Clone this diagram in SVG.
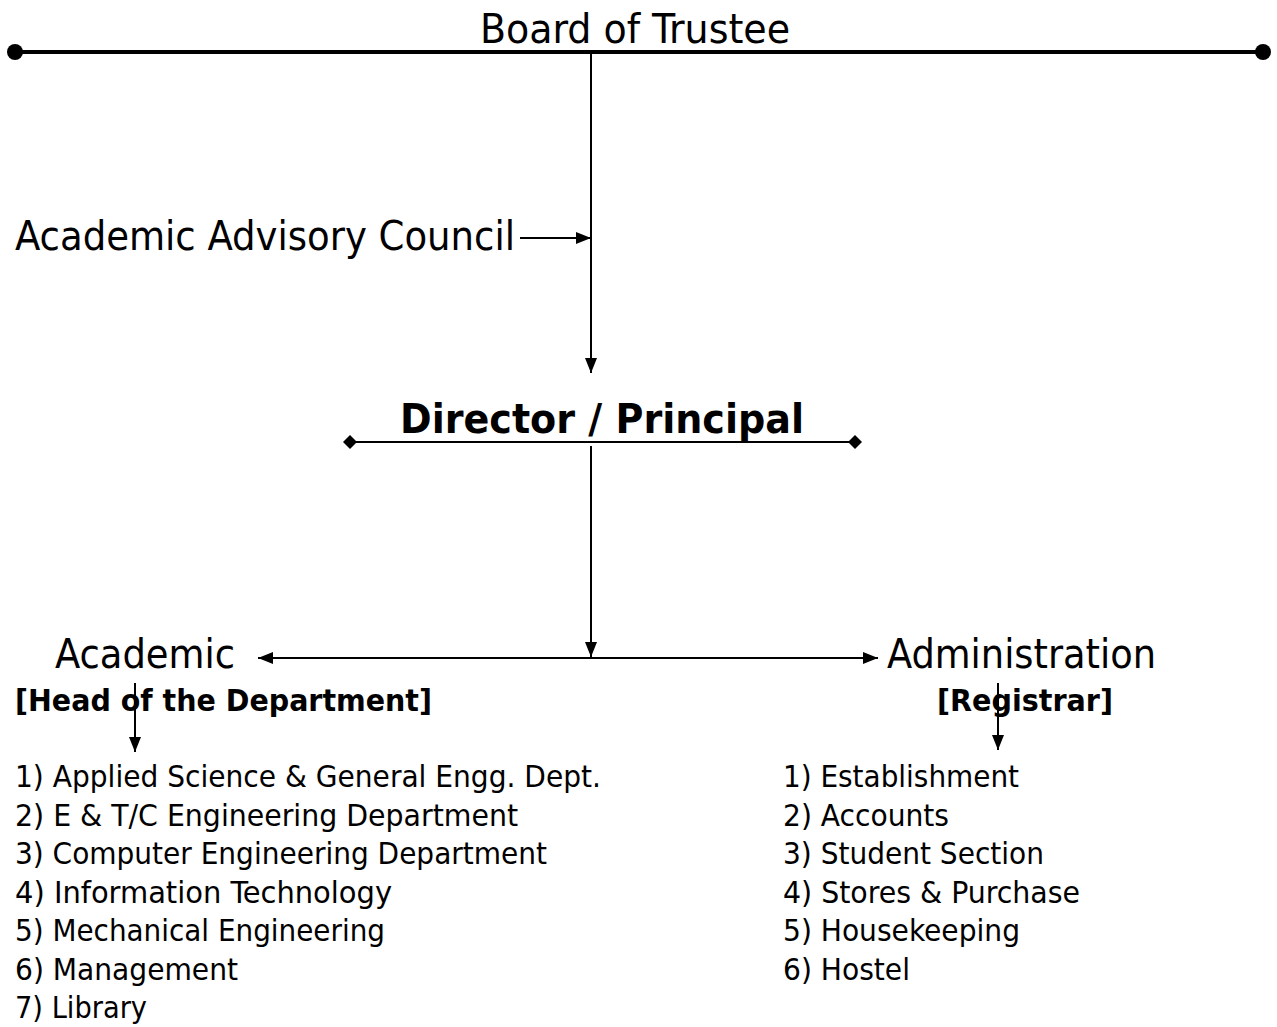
<svg xmlns="http://www.w3.org/2000/svg" width="1277" height="1027" viewBox="0 0 1277 1027">
<style>
text{font-family:"DejaVu Sans Condensed","DejaVu Sans",sans-serif;fill:#000}
.big{font-size:40px}
.bigb{font-size:41px;font-weight:bold}
.mid{font-size:30px}
.midb{font-size:30px;font-weight:bold}
.ln{stroke:#000;fill:none}
</style>
<defs>
<marker id="arr" markerUnits="userSpaceOnUse" markerWidth="16" markerHeight="14" refX="15" refY="7" orient="auto-start-reverse">
<path d="M0,1 L15,7 L0,13 Z" fill="#000"/>
</marker>
<marker id="dot" markerUnits="userSpaceOnUse" markerWidth="18" markerHeight="18" refX="9" refY="9">
<circle cx="9" cy="9" r="8" fill="#000"/>
</marker>
<marker id="dia" markerUnits="userSpaceOnUse" markerWidth="16" markerHeight="16" refX="8" refY="8">
<path d="M8,1 L15,8 L8,15 L1,8 Z" fill="#000"/>
</marker>
</defs>
<rect width="1277" height="1027" fill="#fff"/>
<g id="connectors">
<line class="ln" x1="15" y1="52" x2="1263" y2="52" stroke-width="4" marker-start="url(#dot)" marker-end="url(#dot)"/>
<line class="ln" x1="591" y1="52" x2="591" y2="373" stroke-width="2" marker-end="url(#arr)"/>
<line class="ln" x1="520" y1="238" x2="591" y2="238" stroke-width="2" marker-end="url(#arr)"/>
<line class="ln" x1="350" y1="442" x2="855" y2="442" stroke-width="2" marker-start="url(#dia)" marker-end="url(#dia)"/>
<line class="ln" x1="591" y1="446" x2="591" y2="657" stroke-width="2" marker-end="url(#arr)"/>
<line class="ln" x1="258" y1="658" x2="878" y2="658" stroke-width="2" marker-start="url(#arr)" marker-end="url(#arr)"/>
<line class="ln" x1="135" y1="683" x2="135" y2="752" stroke-width="2" marker-end="url(#arr)"/>
<line class="ln" x1="998" y1="683" x2="998" y2="750" stroke-width="2" marker-end="url(#arr)"/>
</g>
<g id="board"><text class="big" x="480" y="43" textLength="310" lengthAdjust="spacingAndGlyphs">Board of Trustee</text></g>
<g id="council"><text class="big" x="15" y="250" textLength="500" lengthAdjust="spacingAndGlyphs">Academic Advisory Council</text></g>
<g id="director"><text class="bigb" x="400" y="433" textLength="404" lengthAdjust="spacingAndGlyphs">Director / Principal</text></g>
<g id="academic">
<text class="big" x="55" y="668" textLength="180" lengthAdjust="spacingAndGlyphs">Academic</text>
<text class="midb" x="15" y="711" textLength="417" lengthAdjust="spacingAndGlyphs">[Head of the Department]</text>
</g>
<g id="administration">
<text class="big" x="887" y="668" textLength="269" lengthAdjust="spacingAndGlyphs">Administration</text>
<text class="midb" x="937" y="711" textLength="176" lengthAdjust="spacingAndGlyphs">[Registrar]</text>
</g>
<g id="academic-list">
<text class="mid" x="15" y="787" textLength="586" lengthAdjust="spacingAndGlyphs">1) Applied Science &amp; General Engg. Dept.</text>
<text class="mid" x="15" y="826" textLength="503" lengthAdjust="spacingAndGlyphs">2) E &amp; T/C Engineering Department</text>
<text class="mid" x="15" y="864" textLength="532" lengthAdjust="spacingAndGlyphs">3) Computer Engineering Department</text>
<text class="mid" x="15" y="903" textLength="377" lengthAdjust="spacingAndGlyphs">4) Information Technology</text>
<text class="mid" x="15" y="941" textLength="370" lengthAdjust="spacingAndGlyphs">5) Mechanical Engineering</text>
<text class="mid" x="15" y="980" textLength="223" lengthAdjust="spacingAndGlyphs">6) Management</text>
<text class="mid" x="15" y="1018" textLength="132" lengthAdjust="spacingAndGlyphs">7) Library</text>
</g>
<g id="admin-list">
<text class="mid" x="783" y="787" textLength="236" lengthAdjust="spacingAndGlyphs">1) Establishment</text>
<text class="mid" x="783" y="826" textLength="166" lengthAdjust="spacingAndGlyphs">2) Accounts</text>
<text class="mid" x="783" y="864" textLength="261" lengthAdjust="spacingAndGlyphs">3) Student Section</text>
<text class="mid" x="783" y="903" textLength="297" lengthAdjust="spacingAndGlyphs">4) Stores &amp; Purchase</text>
<text class="mid" x="783" y="941" textLength="237" lengthAdjust="spacingAndGlyphs">5) Housekeeping</text>
<text class="mid" x="783" y="980" textLength="127" lengthAdjust="spacingAndGlyphs">6) Hostel</text>
</g>
</svg>
